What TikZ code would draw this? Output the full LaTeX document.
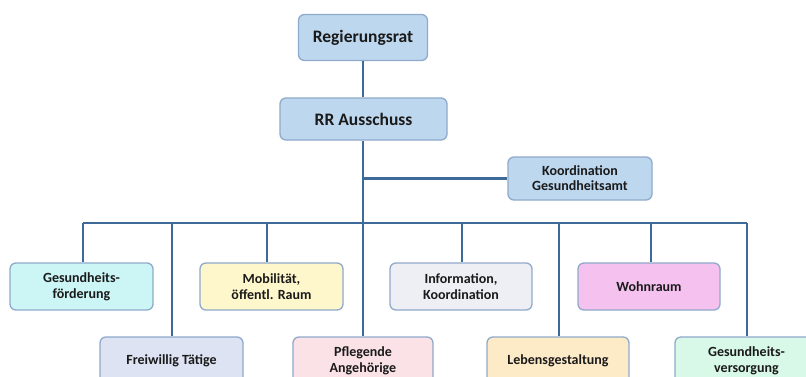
\documentclass[tikz,border=0pt]{standalone}
\usepackage{fontspec}
\setmainfont{Carlito}
\definecolor{linec}{HTML}{3E6A9A}
\definecolor{borderc}{HTML}{8FAACB}
\definecolor{fblue}{HTML}{BDD7EE}
\definecolor{fcyan}{HTML}{CCF5F6}
\definecolor{fyellow}{HTML}{FFF7CC}
\definecolor{fgrey}{HTML}{EEEEF5}
\definecolor{fpink}{HTML}{F5C1EE}
\definecolor{flav}{HTML}{DDE3F2}
\definecolor{frose}{HTML}{FBE2E6}
\definecolor{forange}{HTML}{FDEBC8}
\definecolor{fmint}{HTML}{D8F8E8}
\definecolor{txt}{HTML}{1A1A1A}
\begin{document}
\begin{tikzpicture}[x=1pt,y=-1pt,
  orgbox/.style={draw=borderc, line width=1.3pt, rounded corners=6pt, inner sep=0pt,
    align=center, text=txt, font=\bfseries\fontsize{14}{16}\selectfont,
    minimum width=143pt, minimum height=47pt},
  topbox/.style={orgbox, fill=fblue, font=\bfseries\fontsize{17.5}{20}\selectfont},
  conn/.style={draw=linec, line width=2.4pt}]
\useasboundingbox (0,0) rectangle (806,376);
\clip (0,0) rectangle (806,376);
\fill[white] (0,0) rectangle (806,376);

\coordinate (bL) at (83,223);
\coordinate (bR) at (747,223);
\coordinate (b1) at (83,223);
\coordinate (b2) at (172,223);
\coordinate (b3) at (267,223);
\coordinate (b4) at (363,223);
\coordinate (b5) at (462,223);
\coordinate (b6) at (559,223);
\coordinate (b7) at (651,223);
\coordinate (b8) at (747,223);
\coordinate (kj) at (363,178.5);

\node[topbox, minimum width=129pt, minimum height=46pt] (rr) at (363,37.5) {Regierungsrat};
\node[topbox, minimum width=167pt, minimum height=42pt] (aus) at (363.5,119) {RR Ausschuss};
\node[orgbox, fill=fblue, minimum width=144pt, minimum height=43pt,
  font=\bfseries\fontsize{14}{15}\selectfont] (kg) at (580,178.5) {Koordination\\Gesundheitsamt};

\node[orgbox, fill=fcyan] (g1) at (81.5,286.5) {Gesundheits-\\förderung};
\node[orgbox, fill=fyellow] (g3) at (271.5,286.5) {Mobilität,\\öffentl. Raum};
\node[orgbox, fill=fgrey, minimum width=142pt] (g5) at (461,286.5) {Information,\\Koordination};
\node[orgbox, fill=fpink, minimum width=142pt] (g7) at (649,286.5) {Wohnraum};

\node[orgbox, fill=flav] (g2) at (171.5,360.5) {Freiwillig Tätige};
\node[orgbox, fill=frose, minimum width=140pt] (g4) at (363,360.5) {Pflegende\\Angehörige};
\node[orgbox, fill=forange, minimum width=142pt] (g6) at (558,360.5) {Lebensgestaltung};
\node[orgbox, fill=fmint] (g8) at (746.5,360.5) {Gesundheits-\\versorgung};

\draw[conn] (rr.south) -- (rr.south |- aus.north);
\draw[conn] (b4 |- aus.south) -- (b4);
\draw[conn] (kj) -- (kg.west);
\draw[conn] (bL) -- (bR);
\draw[conn] (b1) -- (b1 |- g1.north);
\draw[conn] (b2) -- (b2 |- g2.north);
\draw[conn] (b3) -- (b3 |- g3.north);
\draw[conn] (b4) -- (b4 |- g4.north);
\draw[conn] (b5) -- (b5 |- g5.north);
\draw[conn] (b6) -- (b6 |- g6.north);
\draw[conn] (b7) -- (b7 |- g7.north);
\draw[conn] (b8) -- (b8 |- g8.north);
\end{tikzpicture}
\end{document}
